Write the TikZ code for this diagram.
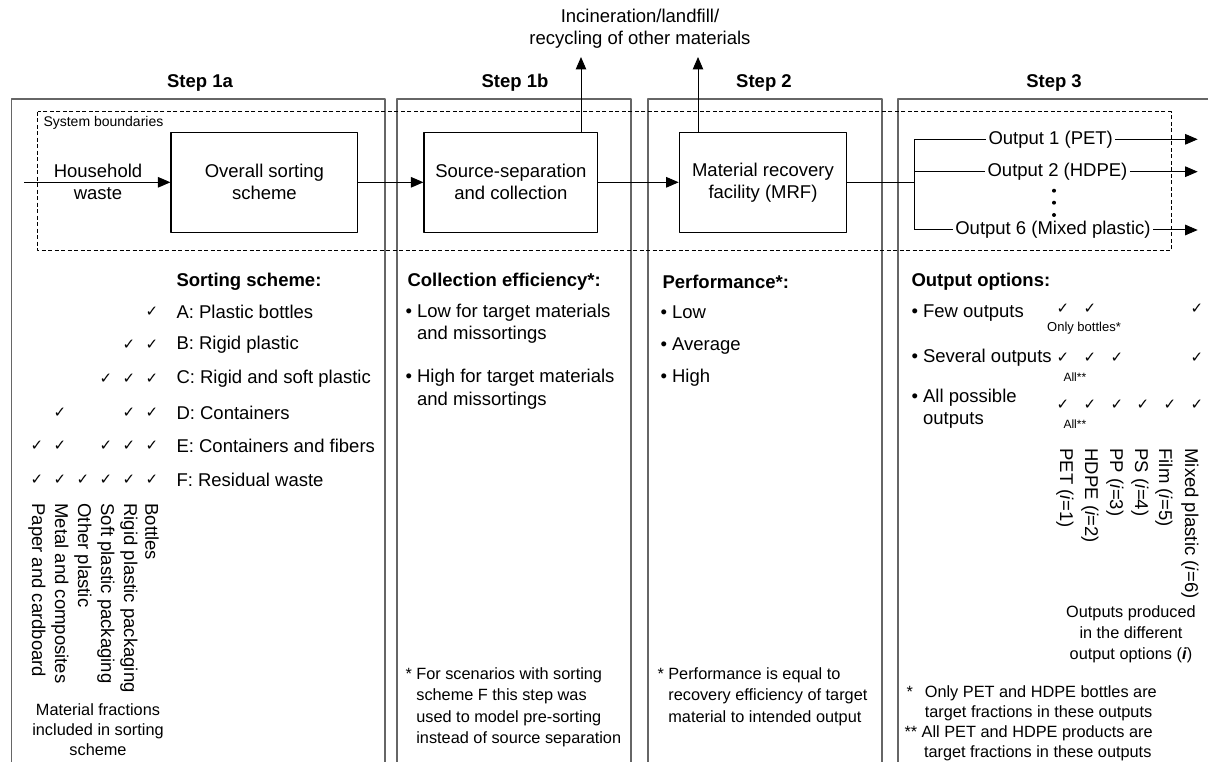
\documentclass[tikz,border=0pt]{standalone}
\usepackage{fontspec}
\setmainfont{Liberation Sans}
\newfontfamily\tickfont{DejaVu Sans}
\usetikzlibrary{arrows.meta}

\begin{document}
\begin{tikzpicture}[x=1pt, y=-1pt, line join=round, line width=1pt,
		>={Triangle[length=12.5pt,width=10.5pt]},
		every node/.style={inner sep=0pt, font=\fontsize{18.5}{22}\selectfont},
		steptitle/.style={font=\fontsize{18.5}{22}\selectfont\bfseries},
		stepframe/.style={draw=black!60, line width=1.3pt},
		proc/.style={draw, line width=1.2pt, minimum height=100pt, align=center},
		outnode/.style={inner sep=2pt},
		txt/.style={anchor=west, align=left},
		note/.style={font=\fontsize{16.3}{21.5}\selectfont},
		small/.style={font=\fontsize{13}{15}\selectfont},
		tick/.style={font=\fontsize{15}{15}\tickfont},
		frac/.style={rotate=-90, anchor=west},
		boundary/.style={dash pattern=on 4pt off 2.5pt, line width=0.9pt}]
	\def\chk{✓}
	\useasboundingbox (0,0) rectangle (1208,762);
	\path
	(24,182.3) coordinate (hwin)
	(581,57) coordinate (up1b)
	(698,57) coordinate (up2)
	(914.3,182.3) coordinate (br)
	(914.3,139.3) coordinate (br1)
	(914.3,171.7) coordinate (br2)
	(914.3,230) coordinate (br6)
	(1197.7,139.3) coordinate (end1)
	(1197.7,171.7) coordinate (end2)
	(1197.7,230) coordinate (end6)
	;
	
	% step frames
	\draw[stepframe] (11.7,770) |- (385,99) -- (385,770);
	\draw[stepframe] (397,770) |- (631,99) -- (631,770);
	\draw[stepframe] (648,770) |- (882,99) -- (882,770);
	\draw[stepframe] (898,770) |- (1215,99);
	\node[steptitle] (t1a) at (200,83) {Step 1a};
	\node[steptitle] (t1b) at (515,83) {Step 1b};
	\node[steptitle] (t2) at (764,83) {Step 2};
	\node[steptitle] (t3) at (1054,83) {Step 3};
	
	\draw[boundary] (37.7,111.7) rectangle (1171,250.7);
	\node[anchor=west, font=\fontsize{14}{16}\selectfont] (sysb) at (43,123) {System boundaries};
	
	% flow
	\node[proc, minimum width=186.7pt] (ovr) at (264.4,182.3) {Overall sorting\\scheme};
	\node[proc, minimum width=173.7pt] (src) at (510.9,182.3) {Source-separation\\and collection};
	\node[proc, minimum width=167.4pt] (mrf) at (763,182.3) {Material recovery\\facility (MRF)};
	\node[align=center] (hw) at (98,181.7) {Household\\waste};
	\node[align=center] (inc) at (640,29) {Incineration/landfill/\\recycling of other materials};
	\node[outnode] (o1) at (1050.7,139.3) {Output 1 (PET)};
	\node[outnode] (o2) at (1057.5,171.7) {Output 2 (HDPE)};
	\node[outnode] (o6) at (1053,230) {Output 6 (Mixed plastic)};
	
	\draw[->] (hwin) -- (ovr.west);
	\draw[->] (ovr) -- (src);
	\draw[->] (src) -- (mrf);
	\draw[->] (src.north -| up1b) -- (up1b);
	\draw[->] (mrf.north -| up2) -- (up2);
	\draw (mrf.east) -- (br);
	\draw (br1) -- (br6);
	\draw (br1) -- (o1);
	\draw (br2) -- (o2);
	\draw (br6) -- (o6);
	\draw[->] (o1) -- (end1);
	\draw[->] (o2) -- (end2);
	\draw[->] (o6) -- (end6);
	\fill (1054,190.7) circle (2pt);
	\fill (1054,202.7) circle (2pt);
	\fill (1054,215) circle (2pt);
	
	% step 1a
	\node[txt, steptitle] (ss) at (176,282) {Sorting scheme:};
	\node[txt] (rA) at (176,312) {A: Plastic bottles};
	\node[txt] (rB) at (176,345) {B: Rigid plastic};
	\node[txt] (rC) at (176,379) {C: Rigid and soft plastic};
	\node[txt] (rD) at (176,413) {D: Containers};
	\node[txt] (rE) at (176,446) {E: Containers and fibers};
	\node[txt] (rF) at (176,480) {F: Residual waste};
	\foreach \x/\y [count=\i] in {152/312, 129/345, 152/345, 106/379, 129/379, 152/379,
		60/413, 129/413, 152/413, 37/446, 60/446, 106/446, 129/446, 152/446,
		37/480, 60/480, 83/480, 106/480, 129/480, 152/480}
		\node[tick] (sc\i) at (\x,\y) {\chk};
	\foreach \x/\t [count=\i] in {37/Paper and cardboard, 60/Metal and composites,
		83/Other plastic, 106/Soft plastic packaging, 129/Rigid plastic packaging, 152/Bottles}
		\node[frac] (mf\i) at (\x,503) {\t};
	\node[note, align=center, font=\fontsize{16.3}{20}\selectfont] (mfx) at (98,730) {Material fractions\\included in sorting\\scheme};
	
	% step 1b
	\node[txt, steptitle] (ce) at (407,282) {Collection efficiency*:};
	\node[txt, font=\fontsize{18.5}{22.5}\selectfont] (ce1) at (405,323.6) {• Low for target materials\\\phantom{• }and missortings};
	\node[txt, font=\fontsize{18.5}{22.5}\selectfont] (ce2) at (405,389.2) {• High for target materials\\\phantom{• }and missortings};
	\node[txt, note] (fn1) at (405,707.5) {* For scenarios with sorting\\\phantom{* }scheme F this step was\\\phantom{* }used to model pre-sorting\\\phantom{* }instead of source separation};
	
	% step 2
	\node[txt, steptitle] (pf) at (662,282) {Performance*:};
	\node[txt] (pf1) at (660,312) {• Low};
	\node[txt] (pf2) at (660,346) {• Average};
	\node[txt] (pf3) at (660,378) {• High};
	\node[txt, note] (fn2) at (657,696.5) {* Performance is equal to\\\phantom{* }recovery efficiency of target\\\phantom{* }material to intended output};
	
	% step 3
	\node[txt, steptitle] (oo) at (911,282) {Output options:};
	\node[txt] (oo1) at (911,313) {• Few outputs};
	\node[txt] (oo2) at (911,358) {• Several outputs};
	\node[txt] (oo3) at (911,409) {• All possible\\\phantom{• }outputs};
	\foreach \x/\y [count=\i] in {1063/309, 1090/309, 1197/309,
		1063/358, 1090/358, 1117/358, 1197/358,
		1063/405, 1090/405, 1117/405, 1143/405, 1170/405, 1197/405}
		\node[tick] (oc\i) at (\x,\y) {\chk};
	\node[small] (onlyb) at (1084,328) {Only bottles*};
	\node[anchor=west, font=\fontsize{12}{14}\selectfont] (all1) at (1063,377) {All**};
	\node[anchor=west, font=\fontsize{12}{14}\selectfont] (all2) at (1063,424) {All**};
	\foreach \x/\t [count=\i] in {1065/PET (\textit{i}=1), 1090/HDPE (\textit{i}=2), 1115/PP (\textit{i}=3),
		1140/PS (\textit{i}=4), 1164/Film (\textit{i}=5), 1190/Mixed plastic (\textit{i}=6)}
		\node[frac] (op\i) at (\x,448) {\t};
	\node[note, align=center, font=\fontsize{16.3}{21}\selectfont] (opd) at (1131,634) {Outputs produced\\in the different\\output options (\textbf{\textit{i}})};
	\node[txt, note, font=\fontsize{16.3}{20}\selectfont] (fn3) at (906,703) {*\hspace*{12pt}Only PET and HDPE bottles are\\\hspace*{18.3pt}target fractions in these outputs};
	\node[txt, note, font=\fontsize{16.3}{20}\selectfont] (fn4) at (904,743) {** All PET and HDPE products are\\\hspace*{19.5pt}target fractions in these outputs};
\end{tikzpicture}
\end{document}
